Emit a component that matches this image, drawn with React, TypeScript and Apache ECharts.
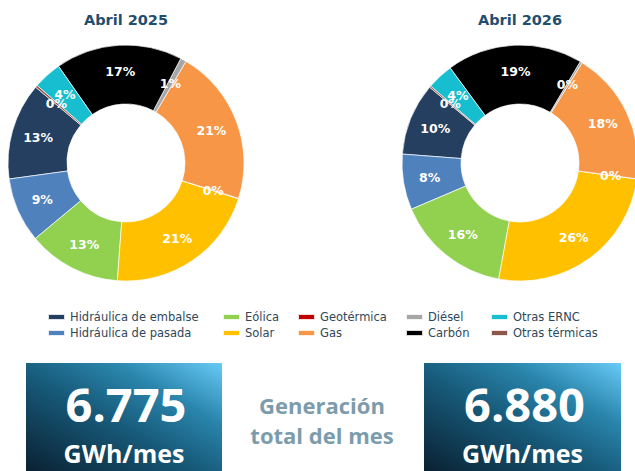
import React, { useEffect, useRef } from "react";
import * as echarts from "echarts";

const categories = [
  "Hidráulica de embalse",
  "Hidráulica de pasada",
  "Eólica",
  "Solar",
  "Geotérmica",
  "Gas",
  "Diésel",
  "Carbón",
  "Otras ERNC",
  "Otras térmicas",
];
const sliceColors = [
  "#243f60",
  "#4f81bd",
  "#92d050",
  "#ffc000",
  "#c00000",
  "#f79646",
  "#a6a6a6",
  "#000000",
  "#17becf",
  "#8c564b",
];
// share of monthly generation (%)
const share2025 = [13.3, 8.9, 12.8, 21.3, 0.05, 21.4, 0.8, 17.4, 3.9, 0.3];
const share2026 = [9.9, 7.6, 15.7, 25.7, 0.03, 18.3, 0.3, 18.6, 3.6, 0.2];
const titles = ["Abril 2025", "Abril 2026"];
const totals = ["6.775", "6.880"];
const unitLabel = "GWh/mes";
const middleLines = ["Generación", "total del mes"];

export default function App() {
  const ref = useRef<HTMLDivElement>(null);
  useEffect(() => {
    if (!ref.current) return;
    const chart = echarts.init(ref.current, null, { renderer: "svg" });

    const makePie = (vals: number[], cx: number) => ({
      type: "pie",
      center: [cx, 163],
      radius: [59, 118],
      startAngle: 140,
      clockwise: false,
      silent: true,
      animation: false,
      minShowLabelAngle: 0,
      labelLayout: { hideOverlap: false },
      itemStyle: { borderColor: "rgba(255,255,255,0.85)", borderWidth: 0.8 },
      label: {
        show: true,
        position: "inside",
        formatter: (p: any) => Math.round(p.percent) + "%",
        color: "#ffffff",
        fontFamily: "DejaVu Sans",
        fontWeight: "bold",
        fontSize: 12.5,
      },
      labelLine: { show: false },
      emphasis: { disabled: true },
      data: categories.map((n, i) => ({
        name: n,
        value: vals[i],
        itemStyle: { color: sliceColors[i] },
      })),
    });

    const colLefts = [47, 222, 297, 405, 490];
    const legends = colLefts.map((left, c) => ({
      orient: "vertical",
      left,
      top: 310,
      padding: 0,
      itemGap: 2,
      itemWidth: 17,
      itemHeight: 6,
      icon: "rect",
      selectedMode: false,
      data: [categories[c * 2], categories[c * 2 + 1]],
      textStyle: {
        fontFamily: "DejaVu Sans",
        fontSize: 11.5,
        color: "#2f4858",
        lineHeight: 14,
      },
    }));

    const grad = () =>
      new echarts.graphic.LinearGradient(0, 1, 1, 0, [
        { offset: 0, color: "#0a2131" },
        { offset: 0.45, color: "#175a7a" },
        { offset: 0.72, color: "#2a86ad" },
        { offset: 1, color: "#68caf7" },
      ]);

    const boxes = [
      { x: 26, w: 196 },
      { x: 424, w: 197 },
    ];
    const graphics: any[] = [];
    [126, 520].forEach((cx, i) => {
      graphics.push({
        type: "text",
        x: cx,
        y: 20,
        style: {
          text: titles[i],
          fill: "#1f4e6e",
          font: "bold 14.5px 'DejaVu Sans'",
          textAlign: "center",
          textVerticalAlign: "middle",
        },
      });
    });
    boxes.forEach((b, i) => {
      const cx = b.x + b.w / 2;
      graphics.push({
        type: "rect",
        shape: { x: b.x, y: 363, width: b.w, height: 108 },
        style: { fill: grad() },
      });
      graphics.push({
        type: "text",
        x: cx + 2,
        y: 404,
        style: {
          text: totals[i],
          fill: "#ffffff",
          font: "bold 47px 'Open Sans'",
          textAlign: "center",
          textVerticalAlign: "middle",
        },
      });
      graphics.push({
        type: "text",
        x: cx,
        y: 453,
        style: {
          text: unitLabel,
          fill: "#ffffff",
          font: "bold 25px 'Open Sans'",
          textAlign: "center",
          textVerticalAlign: "middle",
        },
      });
    });
    middleLines.forEach((t, i) => {
      graphics.push({
        type: "text",
        x: 322,
        y: 405 + i * 30,
        style: {
          text: t,
          fill: "#7c9cac",
          font: "bold 22px 'Open Sans'",
          textAlign: "center",
          textVerticalAlign: "middle",
        },
      });
    });

    chart.setOption({
      animation: false,
      backgroundColor: "#ffffff",
      legend: legends,
      series: [makePie(share2025, 126), makePie(share2026, 520)],
      graphic: graphics,
    });
    return () => chart.dispose();
  }, []);
  return (
    <div
      ref={ref}
      style={{ position: "absolute", left: 0, top: 0, width: 635, height: 471 }}
    />
  );
}
